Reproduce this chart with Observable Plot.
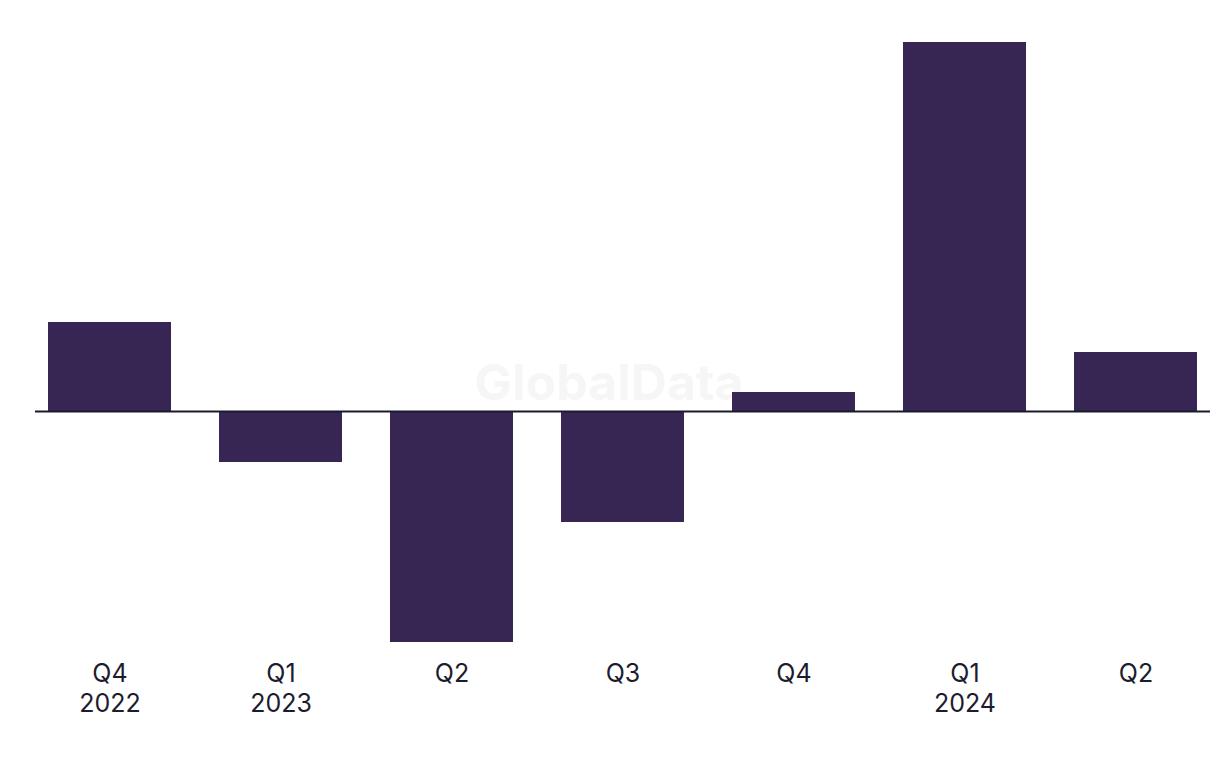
<!DOCTYPE html>
<html>
<head>
<meta charset="utf-8">
<script src="https://cdn.jsdelivr.net/npm/d3@7"></script>
<script src="https://cdn.jsdelivr.net/npm/@observablehq/plot@0.6"></script>
<style>
  html, body { margin: 0; padding: 0; background: #fff; }
  #chart svg { display: block; }
</style>
</head>
<body>
<div id="chart"></div>
<script>
const quarters = ["Q4 2022", "Q1 2023", "Q2 2023", "Q3 2023", "Q4 2023", "Q1 2024", "Q2 2024"];
const tickLabels = ["Q4\n2022", "Q1\n2023", "Q2", "Q3", "Q4", "Q1\n2024", "Q2"];
const values = [8.9, -5.1, -23.1, -11.1, 1.9, 36.9, 5.9];

const data = quarters.map((q, i) => ({ q, v: values[i] }));
const labelOf = new Map(quarters.map((q, i) => [q, tickLabels[i]]));

const plot = Plot.plot({
  width: 1220,
  height: 768,
  marginTop: 42,
  marginBottom: 126,
  marginLeft: 30,
  marginRight: 5,
  style: { fontFamily: "Inter, 'Liberation Sans', sans-serif", background: "#fff" },
  x: { domain: quarters, paddingInner: 0.28, paddingOuter: 0.1, axis: null, label: null },
  y: { domain: [-23.1, 36.9], axis: null },
  marks: [
    Plot.text(["GlobalData"], {
      frameAnchor: "middle", dx: -14, dy: 41,
      text: d => d, fontSize: 50, fontWeight: "bold", fill: "#f6f6f6"
    }),
    Plot.barY(data, { x: "q", y: "v", fill: "#372554" }),
    Plot.ruleY([0], { stroke: "#1a1a2e", strokeWidth: 2, insetLeft: 5, insetRight: 5 }),
    Plot.axisX({
      tickSize: 0, tickPadding: 18, fontSize: 25, lineHeight: 1.2, label: null,
      fill: "#1c1c2e", tickFormat: d => labelOf.get(d)
    })
  ]
});
document.getElementById("chart").appendChild(plot);
</script>
</body>
</html>
